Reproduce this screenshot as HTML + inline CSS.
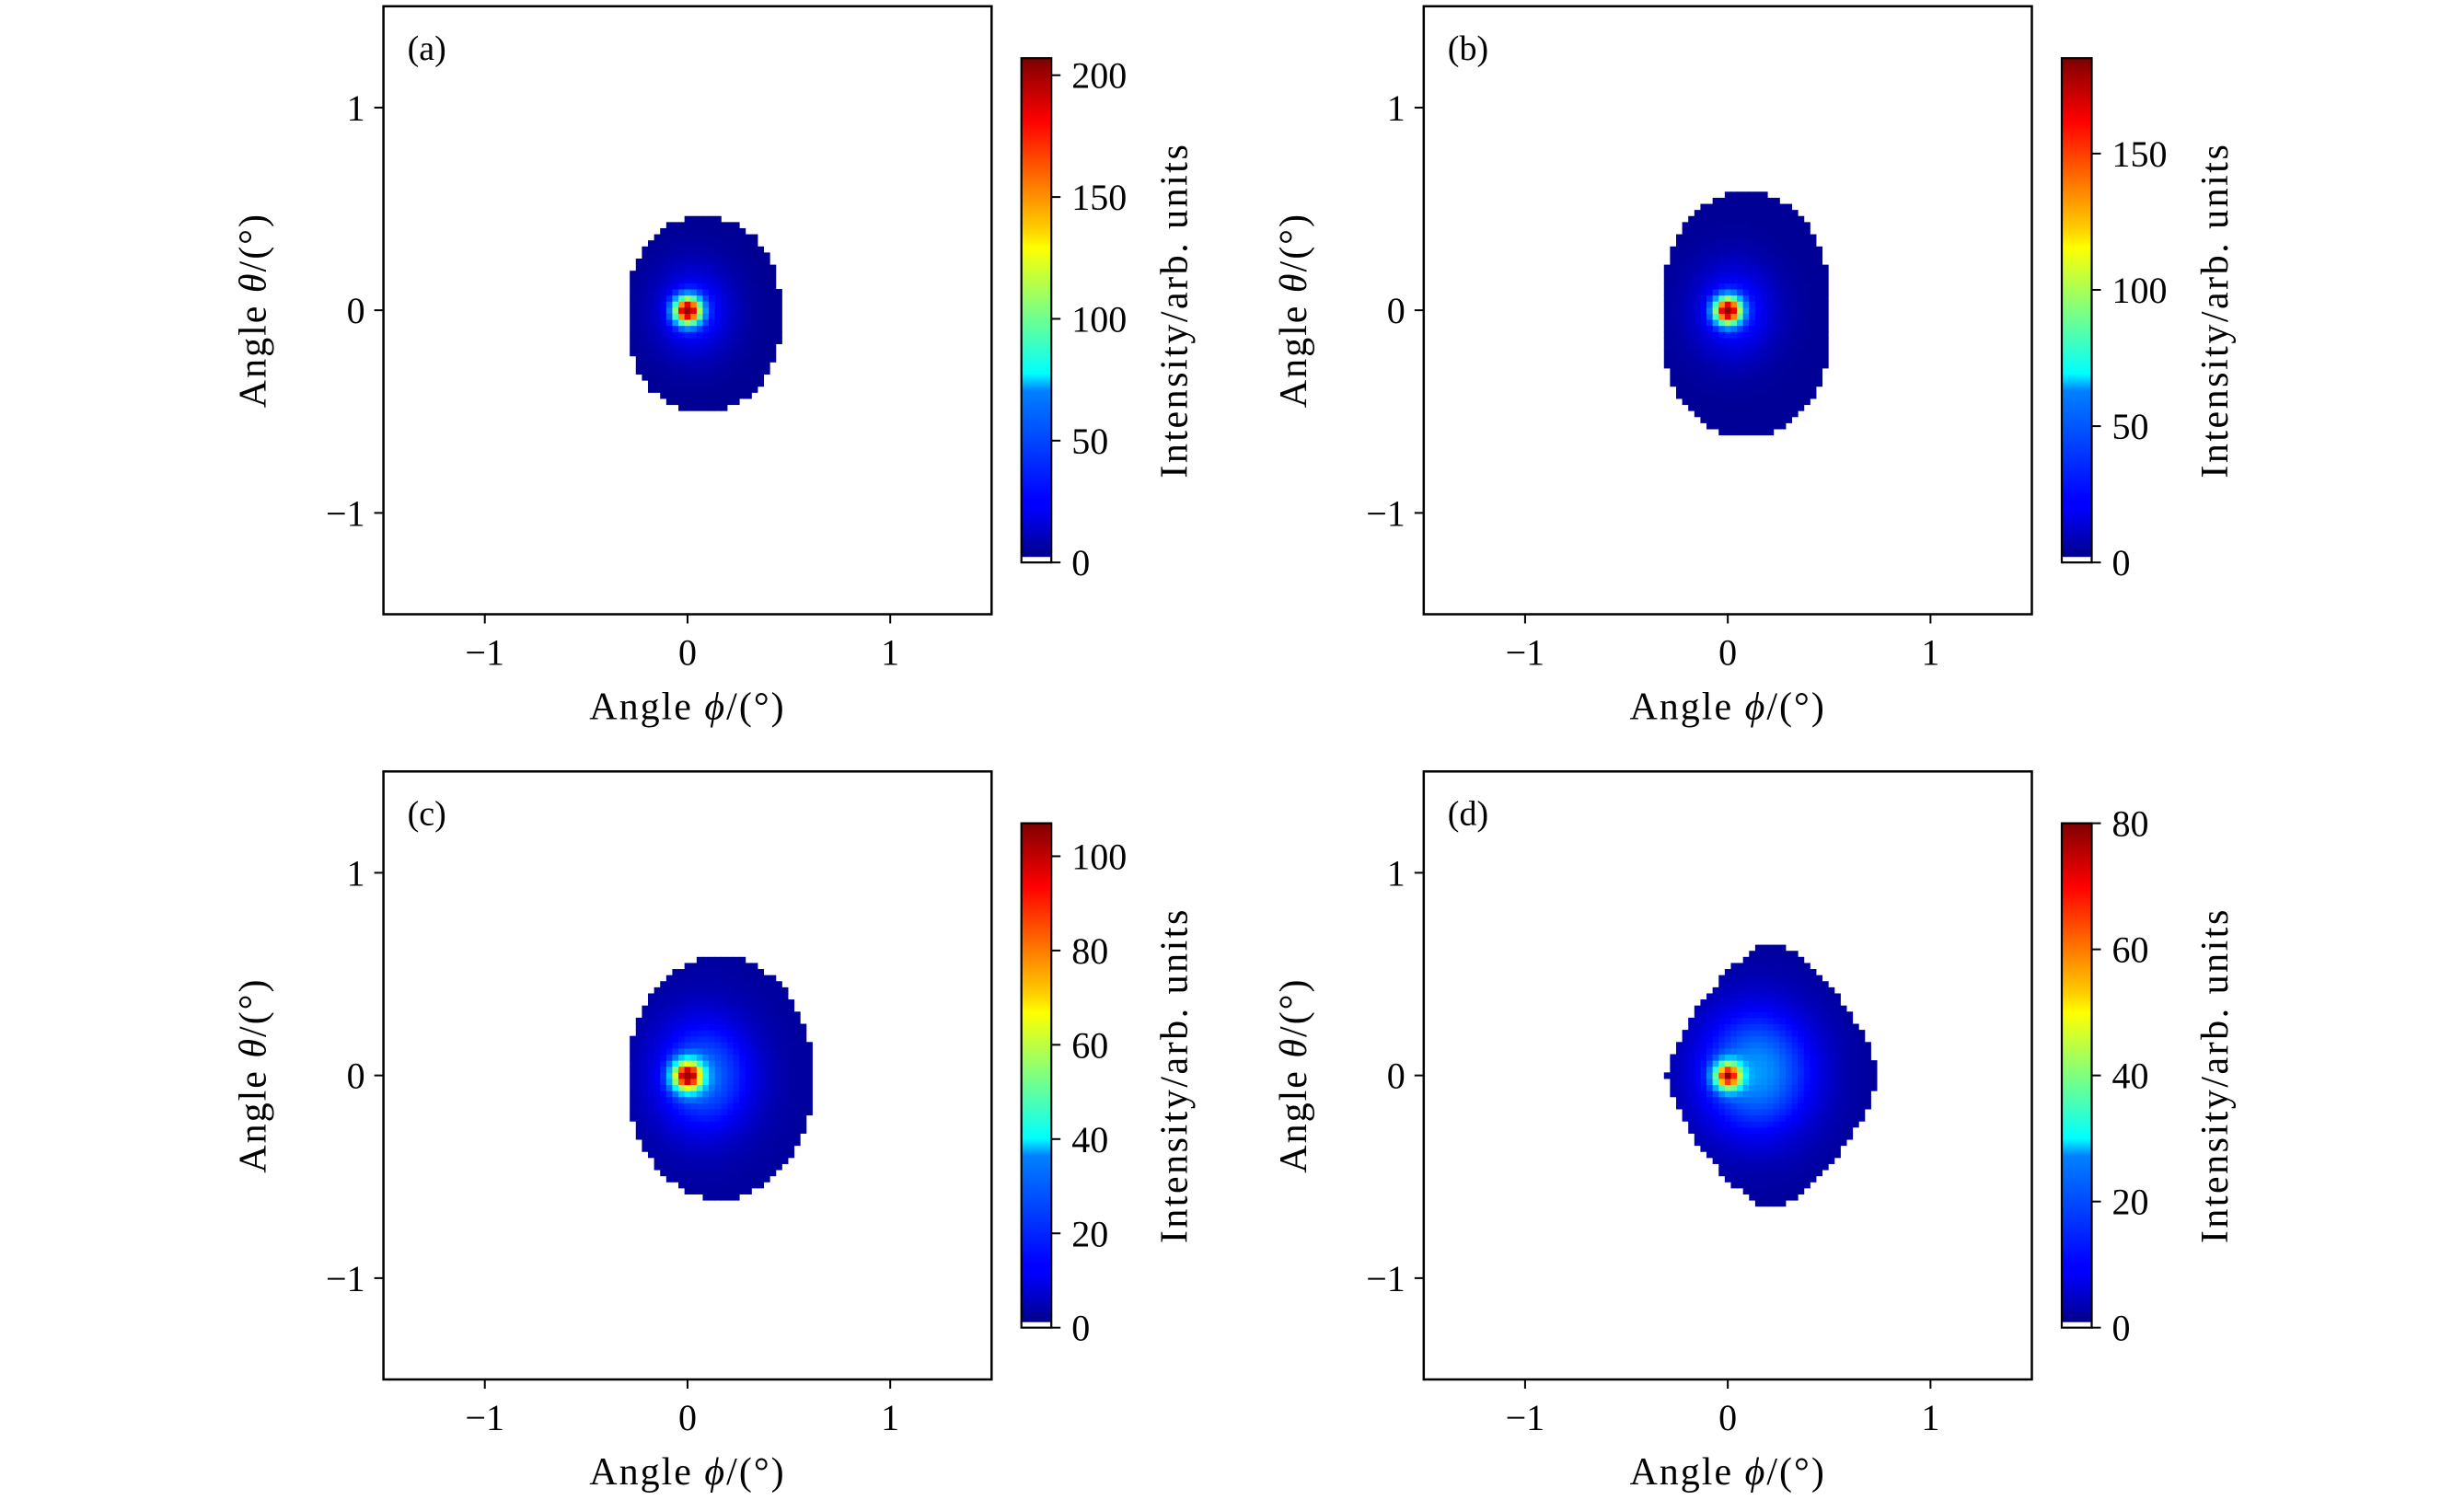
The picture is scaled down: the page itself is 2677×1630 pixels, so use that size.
<!DOCTYPE html>
<html><head><meta charset="utf-8"><style>
html,body{margin:0;padding:0;background:#fff;}
svg{display:block;font-family:"Liberation Serif","DejaVu Serif",serif;}
</style></head><body>
<svg id="fig" width="2677" height="1630" viewBox="0 0 2677 1630" xmlns="http://www.w3.org/2000/svg">
<defs>
<linearGradient id="jet" x1="0" y1="1" x2="0" y2="0">
<stop offset="0" stop-color="#00007f"/><stop offset="0.11" stop-color="#0000ff"/><stop offset="0.125" stop-color="#0000ff"/>
<stop offset="0.34" stop-color="#0080ff"/><stop offset="0.375" stop-color="#00ffff"/><stop offset="0.5" stop-color="#7fff7f"/>
<stop offset="0.625" stop-color="#ffff00"/><stop offset="0.66" stop-color="#ffd000"/><stop offset="0.875" stop-color="#ff0000"/><stop offset="1" stop-color="#7f0000"/>
</linearGradient>
</defs>
</svg>
<script>
// ---- data ----
const panelLabels = ["(a)", "(b)", "(c)", "(d)"];
const vmaxValues = [207, 185, 107, 80];
const cbarTicks = [[0,50,100,150,200],[0,50,100,150],[0,20,40,60,80,100],[0,20,40,60,80]];
const axisTicks = [-1, 0, 1];
const axisTickLabels = ["\u22121", "0", "1"];
// peak (core) position and intensity
const corePeakX = [0.0, 0.0, 0.0, 0.0];
const corePeakY = [0.0, 0.0, 0.0, 0.0];
const corePeakValue = [190, 170, 90, 60];
const coreWidth = [0.045, 0.045, 0.05, 0.045];
// broad halo (value above floor)
const haloCenterX = [0.03, 0.03, 0.08, 0.14];
const haloCenterY = [0.0, 0.0, 0.0, 0.02];
const haloWidthX = [0.13, 0.14, 0.17, 0.2];
const haloWidthY = [0.15, 0.16, 0.2, 0.22];
const haloValue = [30, 26, 22, 20];
const floorValue = [4, 4, 3, 2];
// blob extent (ellipse/diamond)
const extCenterX = [0.08, 0.09, 0.16, 0.22];
const extCenterY = [-0.02, -0.02, -0.01, 0.0];
const extRadiusX = [0.38, 0.42, 0.46, 0.52];
const extRadiusY = [0.48, 0.6, 0.6, 0.66];
const extShapeP = [2.2, 2.2, 2.0, 1.4];

// ---- layout ----
const NS = "http://www.w3.org/2000/svg";
const svg = document.getElementById("fig");
const boxL = [416.6, 1546.8, 416.6, 1546.8], boxT = [6.8, 6.8, 838.3, 838.3], boxS = 660.7;
const cbL = [1109.7, 2240, 1109.7, 2240], cbW = 32.5, cbT = [63.2, 63.2, 894.6, 894.6], cbB = [611.2, 611.2, 1442.7, 1442.7];
const BIN = 0.03;

function mk(tag, attrs, parent){ const e=document.createElementNS(NS,tag); for(const k in attrs) e.setAttribute(k,attrs[k]); (parent||svg).appendChild(e); return e; }
function clamp(v){return Math.max(0,Math.min(1,v));}
function jet(t){
  const r=clamp(1.5-Math.abs(4*t-3)), g=clamp(1.5-Math.abs(4*t-2)), b=clamp(1.5-Math.abs(4*t-1));
  return `rgb(${Math.round(r*255)},${Math.round(g*255)},${Math.round(b*255)})`;
}

for(let p=0;p<4;p++){
  const L=boxL[p], T=boxT[p];
  const xs = v => L + (v+1.5)/3*boxS;
  const ys = v => T + (1.5-v)/3*boxS;
  const g = mk("g",{});
  
  
  const hm = mk("g",{},g);
  
  
  const cell = BIN/3*boxS;
  for(let i=-40;i<=40;i++){
    for(let j=-40;j<=40;j++){
      const x=i*BIN, y=j*BIN;
      const ex=Math.abs(x-extCenterX[p])/extRadiusX[p], ey=Math.abs(y-extCenterY[p])/extRadiusY[p];
      const d=Math.pow(ex,extShapeP[p])+Math.pow(ey,extShapeP[p]);
      if(d>1) continue;
      const rc=((x-corePeakX[p])**2+(y-corePeakY[p])**2)/(2*coreWidth[p]**2);
      const rh=(x-haloCenterX[p])**2/(2*haloWidthX[p]**2)+(y-haloCenterY[p])**2/(2*haloWidthY[p]**2);
      let v=floorValue[p]+haloValue[p]*Math.exp(-rh)+corePeakValue[p]*Math.exp(-rc);
      if(Math.abs(x-corePeakX[p])<1e-9 && Math.abs(y-corePeakY[p])<1e-9) v=vmaxValues[p]*0.98;
      const r=mk("rect",{x:(xs(x-BIN/2)).toFixed(2),y:(ys(y+BIN/2)).toFixed(2),width:(cell+0.5).toFixed(2),height:(cell+0.5).toFixed(2),fill:jet(v/vmaxValues[p])},hm);
      
      
    }
  }
  const box=mk("rect",{x:L,y:T,width:boxS,height:boxS,fill:"none",stroke:"#000","stroke-width":2.5},g);
  
  
  axisTicks.forEach((t,k)=>{
    mk("line",{x1:xs(t),x2:xs(t),y1:T+boxS,y2:T+boxS+10,stroke:"#000","stroke-width":2},g);
    const tx=mk("text",{x:xs(t),y:T+boxS+55,"font-size":40,"text-anchor":"middle"},g);
    tx.textContent=axisTickLabels[k];
    
    
    mk("line",{x1:L-10,x2:L,y1:ys(t),y2:ys(t),stroke:"#000","stroke-width":2},g);
    const ty=mk("text",{x:L-20,y:ys(t)+14,"font-size":40,"text-anchor":"end"},g);
    ty.textContent=axisTickLabels[k];
    
    
  });
  const xl=mk("text",{x:L+boxS/2,y:T+boxS+114,"font-size":42,"letter-spacing":2,"text-anchor":"middle"},g);
  xl.innerHTML='Angle <tspan font-style="italic">ϕ</tspan>/(°)';
  
  
  const yl=mk("text",{x:0,y:0,"font-size":42,"letter-spacing":2,"text-anchor":"middle",transform:`translate(${L-128},${T+boxS/2}) rotate(-90)`},g);
  yl.innerHTML='Angle <tspan font-style="italic">θ</tspan>/(°)';
  
  
  const pl=mk("text",{x:L+26,y:T+58,"font-size":38},g);
  pl.textContent=panelLabels[p];
  
  
  // colorbar
  const cx=cbL[p], ct=cbT[p], cb=cbB[p];
  const cs = v => cb - v/vmaxValues[p]*(cb-ct);
  const cbg=mk("g",{},g);
  
  
  mk("rect",{x:cx,y:ct,width:cbW,height:cb-ct,fill:"url(#jet)"},cbg);
  mk("rect",{x:cx,y:cb-6,width:cbW,height:6,fill:"#fff"},cbg);
  mk("rect",{x:cx,y:ct,width:cbW,height:cb-ct,fill:"none",stroke:"#000","stroke-width":2.2},cbg);
  cbarTicks[p].forEach(t=>{
    mk("line",{x1:cx+cbW,x2:cx+cbW+10,y1:cs(t),y2:cs(t),stroke:"#000","stroke-width":2},cbg);
    const ct2=mk("text",{x:cx+cbW+22,y:cs(t)+14,"font-size":40},cbg);
    ct2.textContent=String(t);
    
    
  });
  const cl=mk("text",{x:0,y:0,"font-size":42,"letter-spacing":2.5,"text-anchor":"middle",transform:`translate(${cx+180},${T+boxS/2}) rotate(-90)`},cbg);
  cl.textContent="Intensity/arb. units";
  
  
}
</script>
</body></html>
